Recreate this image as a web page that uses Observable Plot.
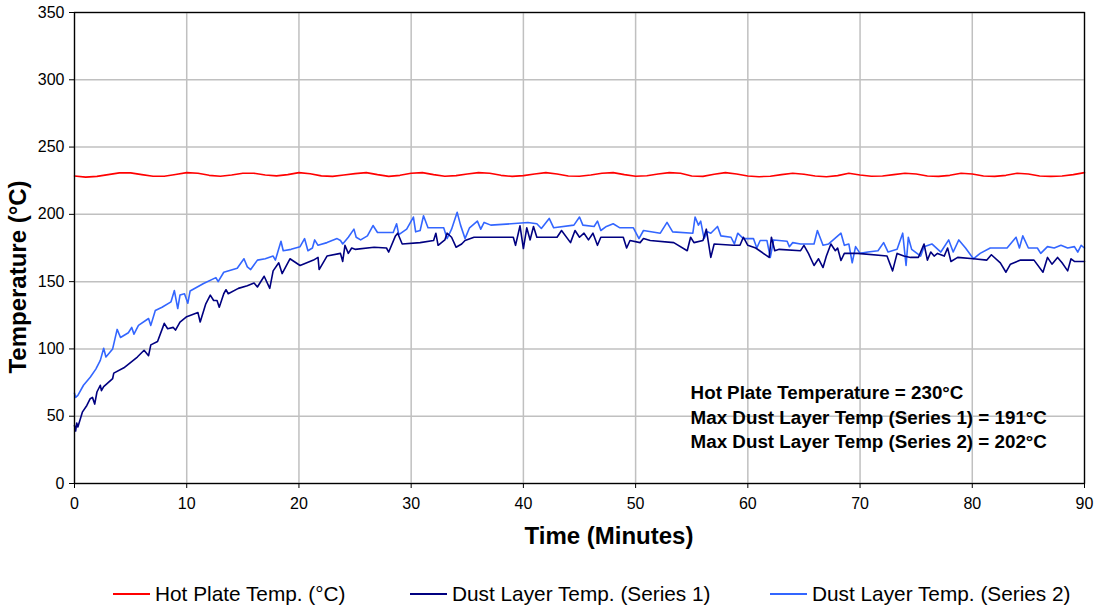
<!DOCTYPE html>
<html>
<head>
<meta charset="utf-8">
<script src="https://cdn.jsdelivr.net/npm/d3@7"></script>
<script src="https://cdn.jsdelivr.net/npm/@observablehq/plot@0.6"></script>
<style>
  html, body { margin: 0; padding: 0; background: #fff; }
  #wrap { position: relative; width: 1097px; height: 610px; font-family: "Liberation Sans", Arial, sans-serif; color: #000; }
  #chart { position: absolute; left: 0; top: 0; }
  .axis-title { position: absolute; font-weight: bold; font-size: 24px; white-space: nowrap; }
  #ytitle { left: 18px; top: 277px; transform: translate(-50%, -50%) rotate(-90deg); }
  #xtitle { left: 609px; top: 536px; transform: translate(-50%, -50%); }
  .leg { position: absolute; top: 594px; transform: translateY(-50%); display: flex; align-items: center; font-size: 20.8px; white-space: nowrap; }
  .leg .sw { display: inline-block; width: 37px; height: 0; border-top: 2px solid; margin-right: 5px; }
</style>
</head>
<body>
<div id="wrap">
  <div id="chart"></div>
  <div id="ytitle" class="axis-title">Temperature (°C)</div>
  <div id="xtitle" class="axis-title">Time (Minutes)</div>
  <div id="legend"></div>
</div>
<script>
// ---- Data ----
const seriesNames = ["Hot Plate Temp. (°C)", "Dust Layer Temp. (Series 1)", "Dust Layer Temp. (Series 2)"];
const seriesColors = ["#FF0000", "#000080", "#3366FF"];
const xTicks = [0, 10, 20, 30, 40, 50, 60, 70, 80, 90];
const yTicks = [0, 50, 100, 150, 200, 250, 300, 350];

// Hot plate temperature, one value per minute 0..90
const hotTemp = [228.5,227.7,228.2,229.5,230.8,230.8,229.5,228.3,228.3,229.6,
  231,230.5,229,228.3,229.2,230.6,230.5,229.3,228.6,229.5,
  231,230.2,228.6,228.2,229.2,230.3,231,229.5,228.2,229,
  230.5,231,229.5,228.3,228.8,230,231,230.5,229,228.2,
  228.8,230,231,230,228.5,228.3,229.3,230.5,231,229.5,
  228.3,228.7,230,231,230.5,228.5,228.2,229.8,231,230,
  228.5,228,228.3,229.5,230.5,229.8,228.5,228,228.8,230.5,
  229.3,228.3,228.5,229.5,230.5,230,228.5,228.2,229,230.5,
  230,228.5,228.2,229,230.5,230,228.5,228.2,228.5,229.5,231];

// Dust layer, series 1: [minute, °C]
const dust1 = [[0,43],[0.1,39],[0.2,45],[0.3,42],[0.7,53],[1.1,58],[1.4,63],[1.6,64],[1.8,59],[2.0,68],[2.3,73],[2.4,69],[2.6,72],[3.4,78],[3.5,82],[4.4,86],[5.6,94],[6.2,99],[6.6,95],[6.8,103],[7.4,105.5],[8.0,119],[8.3,115],[8.8,116],[9.0,114],[9.4,120],[10.0,124],[11.0,127],[11.2,120],[11.7,133.5],[12.1,140],[12.4,136],[12.7,136],[12.9,131],[13.3,141],[13.5,144],[13.7,141],[14.6,145],[15.4,147],[16.0,149],[16.3,146],[16.9,154],[17.4,145],[17.7,158],[18.2,164],[18.5,156],[19.2,167],[20.1,162],[21.3,166],[21.7,168],[21.8,159],[22.5,169],[23.7,171],[23.9,165],[24.1,177],[24.4,171],[24.7,175],[25.0,174],[26.7,175.6],[27.8,175],[28.0,172],[28.6,184],[28.8,186],[29.2,178],[30.8,179],[32.0,180.6],[32.2,186],[32.4,177],[33.0,181],[33.2,186],[33.6,183],[34.0,175.6],[34.5,178],[34.8,180.6],[35.6,183],[38.0,183],[39.1,183],[39.3,177],[39.7,191.5],[40.0,174.6],[40.3,190],[40.6,181],[40.9,191],[41.2,183],[43.0,183],[43.4,188],[44.2,179],[44.6,188],[45.0,183],[45.4,186],[45.8,181],[46.2,186],[46.6,177],[46.9,183],[48.9,183],[49.2,175],[49.5,180.6],[50.4,179],[50.7,182],[51.3,180.6],[53.4,179],[54.6,173],[54.9,183],[55.2,179],[56.0,180.6],[56.3,189],[56.7,168],[57.0,178],[58.7,177],[59.3,177],[59.6,183],[60.0,177],[60.7,175],[61.9,168],[62.1,183],[62.4,173],[62.8,174],[64.7,173],[65.0,177],[65.4,171],[65.9,162],[66.3,167],[66.7,160.5],[67.0,169],[67.4,178],[67.8,173],[68.0,175],[68.3,165.7],[68.6,171],[69.8,171],[72.4,169],[72.9,158],[73.3,171],[73.9,169],[74.5,168],[75.2,168],[75.7,178],[76.0,166],[76.3,172],[76.6,169],[76.9,171],[77.5,169],[77.8,175],[78.1,165],[78.7,168],[80.1,167],[81.3,166],[81.7,170],[82.5,164],[83.0,157],[83.4,163],[84.3,166],[85.5,166],[86.3,157],[86.7,168],[87.1,163],[87.6,168],[88.0,164],[88.5,158],[88.8,167],[89.1,165],[90.0,165]];

// Dust layer, series 2: [minute, °C]
const dust2 = [[0,67],[0.1,64],[0.3,65.5],[0.8,73],[1.4,79],[1.9,85],[2.3,91.5],[2.6,100.5],[2.8,94],[3.4,100],[3.8,114.5],[4.1,108.5],[4.8,112],[5.1,116],[5.3,111],[5.7,117.5],[6.6,122.6],[6.8,117.5],[7.2,128.6],[7.8,131],[8.6,135],[8.9,143.4],[9.2,130],[9.4,140],[9.8,141],[10.1,134],[10.3,143],[11.5,148.6],[12.6,153],[12.8,150],[13.3,157],[14.5,160],[15.1,167],[15.4,161],[15.7,159],[16.3,166],[17.0,167],[17.7,169],[17.9,166],[18.4,180],[18.6,173],[19.3,174],[20.1,176],[20.5,182],[20.8,173],[21.2,175],[21.4,181],[21.7,177],[22.5,179],[23.4,182],[23.7,180.6],[23.9,178],[24.4,183],[24.9,189],[25.1,183],[25.5,181],[26.1,184],[26.6,191.7],[27.0,186.5],[28.4,186.5],[28.7,193],[28.9,185],[29.6,189],[30.2,198],[30.4,187],[30.8,188],[31.1,199],[31.5,190],[32.9,190],[33.2,182],[33.6,189],[34.1,201.5],[34.4,192],[34.8,182],[35.2,190],[35.9,195],[36.2,189],[36.5,194],[37.1,192],[38.9,193],[40.4,194],[41.2,193],[41.6,189.5],[42.3,197],[42.7,190],[44.5,192],[45.0,198],[45.3,192],[46.3,191],[46.6,195],[46.9,188],[47.4,191],[48.0,193],[48.6,190],[49.8,190],[50.3,182],[50.7,188],[52.2,186],[52.8,194],[53.3,187],[55.1,186],[55.3,198],[55.6,192],[55.8,195],[56.1,182],[56.4,187],[56.7,186],[57.3,191],[57.6,184],[58.5,183],[58.8,178],[59.1,186],[59.6,182],[60.5,182],[60.8,175],[61.1,180.6],[61.7,180.6],[62.0,168],[62.3,181],[63.5,180],[63.7,176],[64.0,179],[64.7,178],[65.9,178],[66.2,188],[66.7,177],[67.2,178],[68.3,186],[68.6,177],[69.0,178],[69.3,164],[69.6,176],[70.0,171],[70.7,172],[71.6,173],[72.1,179],[72.5,172],[73.3,174],[73.8,186],[74.1,162],[74.3,183],[74.6,174],[75.4,169],[75.7,176],[76.4,178],[77.2,172],[77.9,181],[78.3,172],[78.8,181],[79.4,175],[80.1,167],[80.7,171],[81.6,175],[83.1,175],[83.9,183],[84.2,175],[84.5,184],[85.0,175],[85.8,175],[86.1,171],[86.7,176],[87.3,175],[87.9,177],[88.5,175],[89.1,176],[89.4,172],[89.7,177],[90,175]];

const noteLines = ["Hot Plate Temperature = 230°C", "Max Dust Layer Temp (Series 1) = 191°C", "Max Dust Layer Temp (Series 2) = 202°C"];
const noteTime = 54.9;
const noteTemps = [67, 48.5, 31];

// ---- Build tables ----
const hot = hotTemp.map((v, i) => ({t: i, v}));
const d1 = dust1.map(([t, v]) => ({t, v}));
const d2 = dust2.map(([t, v]) => ({t, v}));
const notes = noteLines.map((text, i) => ({t: noteTime, v: noteTemps[i], text}));

const chart = Plot.plot({
  width: 1097,
  height: 560,
  marginLeft: 74,
  marginRight: 13,
  marginTop: 12,
  marginBottom: 77,
  style: {fontFamily: '"Liberation Sans", Arial, sans-serif', fontSize: "16px", color: "#000", background: "#fff", overflow: "visible"},
  x: {domain: [0, 90]},
  y: {domain: [0, 350]},
  marks: [
    Plot.gridX(xTicks, {stroke: "#c0c0c0", strokeOpacity: 1, strokeWidth: 1.5}),
    Plot.gridY(yTicks, {stroke: "#c0c0c0", strokeOpacity: 1, strokeWidth: 1.5}),
    Plot.axisX(xTicks, {tickSize: 5, tickPadding: 9, label: null, stroke: "#000", fontSize: 16}),
    Plot.axisY(yTicks, {tickSize: 5, tickPadding: 5, label: null, stroke: "#000", fontSize: 16}),
    Plot.line(hot, {x: "t", y: "v", stroke: seriesColors[0], strokeWidth: 1.6}),
    Plot.line(d2, {x: "t", y: "v", stroke: seriesColors[2], strokeWidth: 1.6}),
    Plot.line(d1, {x: "t", y: "v", stroke: seriesColors[1], strokeWidth: 1.6}),
    Plot.frame({stroke: "#000", strokeWidth: 1.3}),
    Plot.text(notes, {x: "t", y: "v", text: "text", textAnchor: "start", fontWeight: "bold", fontSize: 18.8, fill: "#000"})
  ]
});
document.getElementById("chart").append(chart);

// ---- Legend ----
const legendLefts = [113, 410, 770];
const legend = document.getElementById("legend");
seriesNames.forEach((name, i) => {
  const item = document.createElement("div");
  item.className = "leg";
  item.style.left = legendLefts[i] + "px";
  const sw = document.createElement("span");
  sw.className = "sw";
  sw.style.borderTopColor = seriesColors[i];
  const label = document.createElement("span");
  label.textContent = name;
  item.append(sw, label);
  legend.append(item);
});
</script>
</body>
</html>
